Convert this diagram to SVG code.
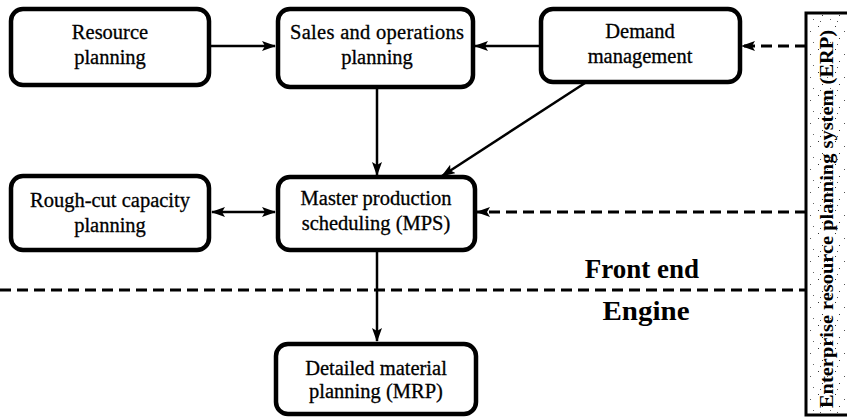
<svg xmlns="http://www.w3.org/2000/svg" width="847" height="418" viewBox="0 0 847 418">
  <style>
    .box { fill: #fff; stroke: #000; stroke-width: 4.5; }
    .lbl { font-family: "Liberation Serif", "Times New Roman", serif; font-size: 20.5px; fill: #000; stroke: #000; stroke-width: 0.3; text-anchor: middle; }
    .big { font-family: "Liberation Serif", "Times New Roman", serif; font-size: 27px; font-weight: bold; fill: #000; text-anchor: middle; }
    .erp { font-family: "Liberation Serif", "Times New Roman", serif; font-size: 19.5px; font-weight: bold; fill: #000; text-anchor: middle; }
    .solid { fill: none; stroke: #000; stroke-width: 2.5; }
    .dash { fill: none; stroke: #000; stroke-width: 3; stroke-dasharray: 11 6; }
  </style>
  <defs>
    <marker id="arrow" viewBox="0 0 14 10" refX="13" refY="5" markerWidth="14" markerHeight="10" markerUnits="userSpaceOnUse" orient="auto-start-reverse">
      <path d="M0,0 L14,5 L0,10 L3,5 Z" fill="#000"/>
    </marker>
    <pattern id="stipple" width="17" height="23" patternUnits="userSpaceOnUse">
      <rect x="2" y="3" width="1" height="1" fill="#333"/>
      <rect x="11" y="8" width="1" height="1" fill="#555"/>
      <rect x="6" y="15" width="1" height="1" fill="#333"/>
      <rect x="14" y="19" width="1" height="1" fill="#666"/>
      <rect x="4" y="21" width="1" height="1" fill="#555"/>
    </pattern>
  </defs>

  <!-- ERP system band on the right -->
  <g id="erp">
    <rect x="806" y="13" width="50" height="402" fill="#fff" stroke="#000" stroke-width="3"/>
    <rect x="808" y="15" width="46" height="398" fill="url(#stipple)"/>
    <text class="erp" transform="translate(833,219) rotate(-90)" textLength="378" lengthAdjust="spacingAndGlyphs">Enterprise resource planning system (ERP)</text>
  </g>

  <!-- Connectors -->
  <g id="connectors">
    <line class="solid" x1="210" y1="46" x2="275" y2="46" marker-end="url(#arrow)"/>
    <line class="solid" x1="540" y1="46" x2="475" y2="46" marker-end="url(#arrow)"/>
    <line class="dash" x1="806" y1="46" x2="742" y2="46" marker-end="url(#arrow)"/>
    <line class="solid" x1="377" y1="88" x2="377" y2="175" marker-end="url(#arrow)"/>
    <line class="solid" x1="585" y1="83" x2="442" y2="176" marker-end="url(#arrow)"/>
    <line class="solid" x1="212" y1="212" x2="275" y2="212" marker-start="url(#arrow)" marker-end="url(#arrow)"/>
    <line class="dash" x1="806" y1="212" x2="477" y2="212" marker-end="url(#arrow)"/>
    <line class="solid" x1="377" y1="251" x2="377" y2="341" marker-end="url(#arrow)"/>
    <line class="dash" x1="0" y1="290" x2="806" y2="290"/>
  </g>

  <g id="resource-planning">
    <rect class="box" x="11" y="9" width="198" height="76" rx="12"/>
    <text class="lbl" x="110" y="39">Resource</text>
    <text class="lbl" x="110" y="64">planning</text>
  </g>

  <g id="sales-operations-planning">
    <rect class="box" x="278" y="9" width="195" height="78" rx="12"/>
    <text class="lbl" x="377" y="39" textLength="174" lengthAdjust="spacing">Sales and operations</text>
    <text class="lbl" x="377" y="64">planning</text>
  </g>

  <g id="demand-management">
    <rect class="box" x="541" y="9" width="199" height="73" rx="12"/>
    <text class="lbl" x="640" y="38">Demand</text>
    <text class="lbl" x="640" y="63">management</text>
  </g>

  <g id="rough-cut-capacity-planning">
    <rect class="box" x="11" y="176" width="198" height="74" rx="12"/>
    <text class="lbl" x="110" y="207">Rough-cut capacity</text>
    <text class="lbl" x="110" y="232">planning</text>
  </g>

  <g id="master-production-scheduling">
    <rect class="box" x="278" y="177" width="197" height="73" rx="12"/>
    <text class="lbl" x="376" y="205">Master production</text>
    <text class="lbl" x="376" y="230">scheduling (MPS)</text>
  </g>

  <g id="detailed-material-planning">
    <rect class="box" x="276" y="344" width="200" height="70" rx="12"/>
    <text class="lbl" x="376" y="375">Detailed material</text>
    <text class="lbl" x="376" y="398">planning (MRP)</text>
  </g>

  <text class="big" x="642" y="278">Front end</text>
  <text class="big" x="646" y="320" textLength="87" lengthAdjust="spacingAndGlyphs">Engine</text>
</svg>
